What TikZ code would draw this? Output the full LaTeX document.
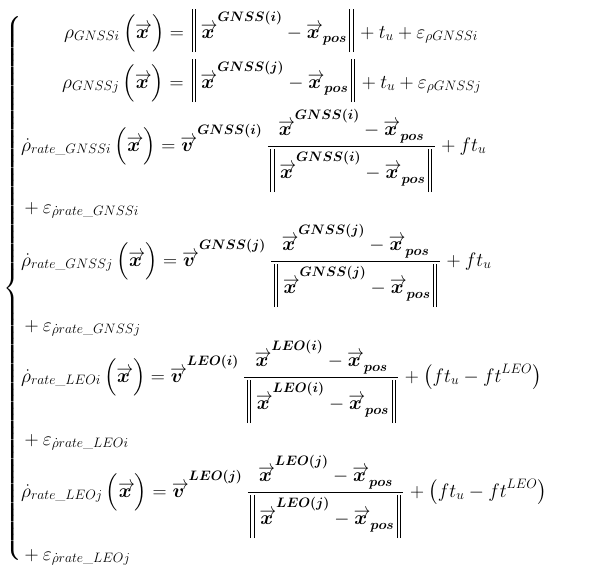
\RequirePackage{fix-cm}
\documentclass[tikz,border=0pt]{standalone}
\usepackage{amsmath,bm,graphicx}
\newcommand{\myarr}[1]{\mathord{\hbox{\ooalign{\hskip0.6pt$\boldsymbol{#1}$\hfil\cr\raisebox{0.4em}{\scalebox{0.85}[1]{$\rightarrow$}}\cr}}}}
\newcommand{\myvx}{{\myarr{x}\rule{0pt}{1.1em}}}
\newcommand{\myvxn}{\myarr{x}}
\newcommand{\myvxp}{{\myarr{x}\rule[-0.22em]{0pt}{0.22em}}_{\boldsymbol{pos}}}
\newcommand{\myvv}{{\myarr{v}\rule{0pt}{1.1em}}}
\newcommand{\mybs}[1]{\boldsymbol{#1}}
\newcommand{\mybars}{\vrule height 29pt depth 14pt width 0.9pt\hskip 2.4pt\vrule height 29pt depth 14pt width 0.9pt}
\newcommand{\mynl}{\mathopen{\hskip2.5pt\mybars\hskip5pt}}
\newcommand{\mynr}{\mathclose{\hskip2.5pt\mybars\hskip2.5pt}}
\newcommand{\mypx}{\mathinner{\Bigl(\myvxn\Bigr)}}
\tikzset{eqrow/.style={anchor=base west, inner sep=0pt, font=\fontsize{19.5}{24}\selectfont},
  bracebox/.style={anchor=west, inner sep=0pt, font=\fontsize{19.5}{24}\selectfont}}
\begin{document}
\nulldelimiterspace=2.3pt
\begin{tikzpicture}[x=1pt,y=1pt]
\useasboundingbox[fill=white] (0,0) rectangle (608,-581);
\node[bracebox] (br) at (3,-289) {\resizebox*{\width}{545pt}{$\left\{\vrule height 264pt depth 264pt width 0pt\right.$}};
\node[eqrow] (r1) at (64,-38) {$\displaystyle \rho_{GNSSi}\mypx=\mynl\myvx^{\mybs{GNSS(i)}}-\myvxp\mynr+t_u+\varepsilon_{\rho GNSSi}$};
\node[eqrow] (r2) at (62,-88) {$\displaystyle \rho_{GNSSj}\mypx=\mynl\myvx^{\mybs{GNSS(j)}}-\myvxp\mynr+t_u+\varepsilon_{\rho GNSSj}$};
\node[eqrow] (r3) at (21,-151) {$\displaystyle \dot{\rho}_{rate\_GNSSi}\mypx=\myvv^{\mybs{GNSS(i)}}\,\frac{\myvx^{\mybs{GNSS(i)}}-\myvxp}{\mynl\myvx^{\mybs{GNSS(i)}}-\myvxp\mynr}+ft_u$};
\node[eqrow] (e1) at (20,-213) {$\displaystyle {}+\varepsilon_{\dot{\rho}rate\_GNSSi}$};
\node[eqrow] (r4) at (21,-266) {$\displaystyle \dot{\rho}_{rate\_GNSSj}\mypx=\myvv^{\mybs{GNSS(j)}}\,\frac{\myvx^{\mybs{GNSS(j)}}-\myvxp}{\mynl\myvx^{\mybs{GNSS(j)}}-\myvxp\mynr}+ft_u$};
\node[eqrow] (e2) at (20,-331) {$\displaystyle {}+\varepsilon_{\dot{\rho}rate\_GNSSj}$};
\node[eqrow] (r5) at (21,-382) {$\displaystyle \dot{\rho}_{rate\_LEOi}\mypx=\myvv^{\mybs{LEO(i)}}\,\frac{\myvx^{\mybs{LEO(i)}}-\myvxp}{\mynl\myvx^{\mybs{LEO(i)}}-\myvxp\mynr}+\left(ft_u-ft^{LEO}\right)$};
\node[eqrow] (e3) at (20,-445) {$\displaystyle {}+\varepsilon_{\dot{\rho}rate\_LEOi}$};
\node[eqrow] (r6) at (21,-497) {$\displaystyle \dot{\rho}_{rate\_LEOj}\mypx=\myvv^{\mybs{LEO(j)}}\,\frac{\myvx^{\mybs{LEO(j)}}-\myvxp}{\mynl\myvx^{\mybs{LEO(j)}}-\myvxp\mynr}+\left(ft_u-ft^{LEO}\right)$};
\node[eqrow] (e4) at (20,-560) {$\displaystyle {}+\varepsilon_{\dot{\rho}rate\_LEOj}$};
\end{tikzpicture}
\end{document}
